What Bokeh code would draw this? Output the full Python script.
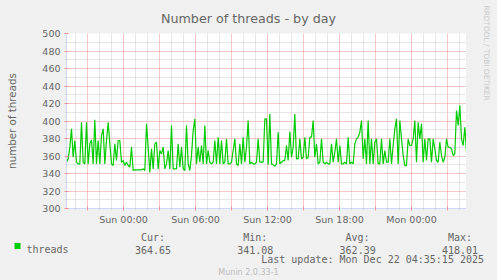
import numpy as np
from bokeh.plotting import figure
from bokeh.layouts import column, row
from bokeh.models import FixedTicker, Range1d
from bokeh.core.properties import value
from bokeh.embed import file_html
from bokeh.resources import INLINE

# ---------------- data ----------------
# number of threads, ~8.3 min samples, first half (Sat 19:15 -> Sun 12:00)
threads_part1 = [
    352.9, 356.7, 370.1, 391.0, 358.6, 377.7, 352.9, 351.0, 351.0, 398.6,
    352.9, 351.0, 398.6, 351.0, 373.9, 378.4, 351.0, 401.3, 351.0, 377.7,
    351.0, 383.4, 391.0, 351.0, 377.7, 398.6, 373.9, 351.0, 349.1, 373.9,
    354.8, 377.7, 377.7, 352.9, 354.8, 349.1, 352.9, 349.1, 347.2, 370.1,
    343.4, 344.2, 344.2, 344.2, 344.2, 344.2, 345.3, 343.4, 396.7, 370.1,
    341.08, 368.2, 345.3, 373.9, 375.8, 345.3, 366.3, 362.4, 370.1, 345.3,
    351.0, 366.3, 345.3, 394.8, 345.3, 345.3, 345.3, 373.9, 347.2, 370.1,
    345.3, 343.4, 394.8, 351.0, 343.4, 360.5, 389.1, 402.4, 351.0, 370.1,
    352.9, 372.0, 351.0, 394.8, 351.0, 366.3, 352.9, 351.0, 352.9, 377.7,
    351.0, 381.5, 351.0, 377.7, 351.0, 352.9, 379.6, 351.0, 351.0, 352.9,
    366.3, 379.6, 351.0, 349.1, 373.9, 351.0, 381.5, 352.9, 370.1, 400.5,
    351.0, 352.9, 351.0, 351.0, 352.9, 379.6, 352.9, 352.9, 352.9, 402.4,
]
# second half (Sun 12:00 -> Mon 04:35)
threads_part2 = [
    402.4, 349.9, 408.1, 351.0, 349.9, 348.3, 351.0, 387.2, 351.0, 352.9,
    354.8, 354.8, 372.0, 354.8, 388.0, 358.6, 370.0, 408.1, 356.7, 356.7,
    379.6, 356.7, 358.6, 381.5, 356.7, 358.6, 381.5, 381.5, 400.5, 358.6,
    373.9, 351.0, 352.9, 379.6, 352.9, 351.0, 352.9, 351.0, 351.0, 373.9,
    352.9, 364.3, 379.6, 352.9, 372.0, 351.0, 351.0, 352.9, 351.0, 381.5,
    351.0, 352.9, 351.0, 373.9, 379.6, 381.5, 387.2, 400.5, 356.7, 379.6,
    351.0, 400.5, 351.0, 379.6, 351.0, 375.8, 379.6, 351.0, 351.0, 379.6,
    351.0, 366.2, 352.9, 352.9, 379.6, 351.0, 372.0, 391.0, 402.4, 351.0,
    400.5, 379.6, 360.5, 349.1, 349.1, 379.6, 372.0, 372.0, 379.6, 400.5,
    352.9, 398.6, 379.6, 396.7, 352.9, 379.6, 354.8, 379.6, 379.6, 352.9,
    379.6, 368.1, 354.8, 352.9, 375.8, 360.5, 352.9, 358.6, 379.6, 370.0,
    370.0, 368.1, 360.5, 362.4, 412.0, 394.8, 418.01, 379.6, 372.0, 392.9,
    364.65,
]
threads = threads_part1 + threads_part2

# time axis in hours relative to Sun 00:00 (window Sat 19:15 -> Mon 04:35)
t_start = -4.75
t_end = 28.5833
x_major_ticks = [-3, 0, 3, 6, 9, 12, 15, 18, 21, 24, 27]
x_tick_labels = {0: "Sun 00:00", 6: "Sun 06:00", 12: "Sun 12:00",
                 18: "Sun 18:00", 24: "Mon 00:00"}
x_minor_ticks = [h for h in range(-4, 29) if h % 3 != 0]

y_major_ticks = list(range(300, 501, 20))
y_minor_ticks = list(range(310, 500, 20))

title_text = "Number of threads - by day"
y_label_text = "number of threads"
series_name = "threads"
stat_labels = ["Cur:", "Min:", "Avg:", "Max:"]
stat_values = [364.65, 341.08, 362.39, 418.01]
last_update = "Last update: Mon Dec 22 04:35:15 2025"
version_text = "Munin 2.0.33-1"
watermark = "RRDTOOL / TOBI OETIKER"

# ---------------- styling / page geometry ----------------
BG = "#f0f0f0"
FONT = "#666666"
AXIS = "#cfd6f8"
GREEN = "#00cc00"
MGRID = "#f09090"
GRID = "#cccccc"

W, H = 497, 280
FL, FR, FT, FB = 66, 466, 33, 208   # plot frame in page pixels
HEAD_H = 28                          # title strip
MAIN_BOTTOM = 228                    # where the legend strip starts
SANS = value("DejaVu Sans")


def blank(width, height, y_down=False):
    """A figure whose frame is the whole canvas, in pixel units."""
    yr = Range1d(height, 0) if y_down else Range1d(0, height)
    fig = figure(width=width, height=height, output_backend="svg",
                 toolbar_location=None, x_range=Range1d(0, width), y_range=yr,
                 x_axis_type=None, y_axis_type=None, min_border=0,
                 min_border_left=0, min_border_right=0,
                 min_border_top=0, min_border_bottom=0)
    fig.background_fill_color = BG
    fig.border_fill_color = BG
    fig.outline_line_color = None
    fig.grid.visible = False
    return fig


# ---------------- title strip ----------------
head = blank(FR, HEAD_H)
head.text(x=[248], y=[HEAD_H - 18.3], text=[title_text], text_align="center",
          text_baseline="alphabetic", text_font=SANS,
          text_font_size="12.7px", text_color=FONT)

# ---------------- main plot ----------------
p = figure(width=FR, height=MAIN_BOTTOM - HEAD_H, output_backend="svg",
           toolbar_location=None,
           x_range=Range1d(t_start, t_end), y_range=Range1d(300, 500),
           min_border_left=FL, min_border_right=0,
           min_border_top=FT - HEAD_H, min_border_bottom=MAIN_BOTTOM - FB)
p.background_fill_color = "white"
p.border_fill_color = BG
p.outline_line_color = None

hours = np.linspace(t_start, t_end, len(threads))
p.line(hours, threads, line_color=GREEN, line_width=1.2)

p.xaxis.ticker = FixedTicker(ticks=x_major_ticks, minor_ticks=x_minor_ticks)
p.xaxis.major_label_overrides = {t: x_tick_labels.get(t, "") for t in x_major_ticks}
p.yaxis.ticker = FixedTicker(ticks=y_major_ticks, minor_ticks=y_minor_ticks)
for ax in (p.xaxis[0], p.yaxis[0]):
    ax.axis_line_color = AXIS
    ax.major_tick_line_color = MGRID
    ax.major_tick_in = 2
    ax.major_tick_out = 2
    ax.minor_tick_line_color = GRID
    ax.minor_tick_in = 1
    ax.minor_tick_out = 1
    ax.major_label_text_font = "DejaVu Sans"
    ax.major_label_text_font_size = "9.5px"
    ax.major_label_text_color = FONT
p.xaxis.major_label_standoff = 3
p.yaxis.major_label_standoff = 4
p.yaxis.axis_label = y_label_text
p.yaxis.axis_label_standoff = 21
p.yaxis.axis_label_text_font = "DejaVu Sans"
p.yaxis.axis_label_text_font_size = "10.3px"
p.yaxis.axis_label_text_font_style = "normal"
p.yaxis.axis_label_text_color = FONT

for g in (p.xgrid[0], p.ygrid[0]):
    g.grid_line_color = MGRID
    g.grid_line_dash = "1 1"
    g.minor_grid_line_color = GRID
    g.minor_grid_line_dash = "1 1"

# ---------------- right strip with the rrdtool watermark ----------------
side = blank(W - FR, MAIN_BOTTOM)
side.text(x=[486 - FR], y=[MAIN_BOTTOM - 5], text=[watermark], angle=-np.pi / 2,
          text_align="left", text_baseline="alphabetic", text_font=SANS,
          text_font_size="7.4px", text_color="#c8c8c8")

# ---------------- legend footer ----------------
f = blank(W, H - MAIN_BOTTOM, y_down=True)
f.y_range = Range1d(H, MAIN_BOTTOM)

MONO = dict(text_font=value("DejaVu Sans Mono"), text_font_size="10px",
            text_color=FONT, text_baseline="alphabetic")
f.quad(left=[14], right=[20], top=[242.5], bottom=[248.5],
       fill_color=GREEN, line_color=None)
f.text(x=[26], y=[249], text=[series_name], text_align="left", **MONO)
label_right = [164.5, 266.8, 369.1, 471.5]
value_right = [170.5, 272.8, 375.2, 477.5]
f.text(x=label_right, y=[237] * 4, text=stat_labels, text_align="right", **MONO)
f.text(x=value_right, y=[249] * 4, text=[f"{v:.2f}" for v in stat_values],
       text_align="right", **MONO)
f.text(x=[483.5], y=[259], text=[last_update], text_align="right", **MONO)
f.text(x=[248], y=[272], text=[version_text], text_align="center",
       text_baseline="alphabetic", text_font=SANS,
       text_font_size="8px", text_color="#bbbbbb")

for fig in (head, p, side, f):
    if "frame_align" in fig.properties():
        fig.frame_align = False

STY = {"background-color": BG}
layout = column(row(column(head, p, spacing=0, styles=STY), side,
                    spacing=0, styles=STY),
                f, spacing=0, styles=STY)
open("out.html", "w").write(file_html(layout, INLINE))
